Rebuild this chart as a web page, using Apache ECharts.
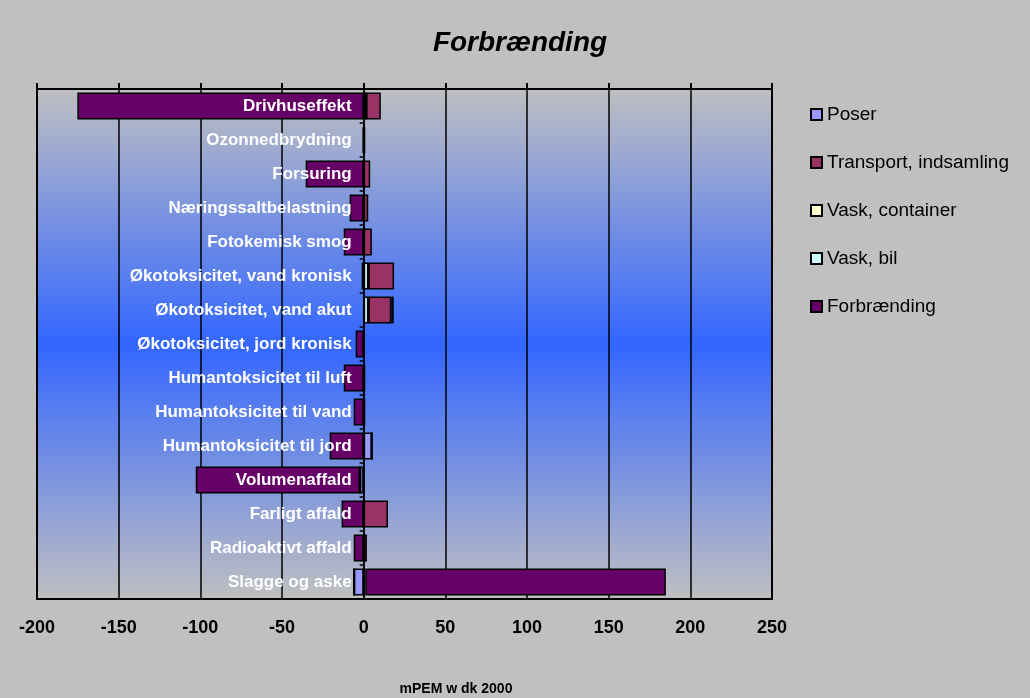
<!DOCTYPE html>
<html>
<head>
<meta charset="utf-8">
<script src="https://cdn.jsdelivr.net/npm/echarts@6/dist/echarts.min.js"></script>
<style>
html,body{margin:0;padding:0;background:#C0C0C0;}
#c{width:1030px;height:698px;}
</style>
</head>
<body>
<div id="c"></div>
<script>
var categories = ['Drivhuseffekt','Ozonnedbrydning','Forsuring','Næringssaltbelastning','Fotokemisk smog','Økotoksicitet, vand kronisk','Økotoksicitet, vand akut','Økotoksicitet, jord kronisk','Humantoksicitet til luft','Humantoksicitet til vand','Humantoksicitet til jord','Volumenaffald','Farligt affald','Radioaktivt affald','Slagge og aske'];
var poser       = [1.5, 0, 0, 0, 0, 0, 0, 0, 0, 0, 5, -2.3, 0, 0, -6];
var transport   = [9, 1, 4, 2.8, 5, 15.7, 14, 0, 1, 1, 0, 0, 14.9, 2, 1];
var vaskCont    = [0, 0, 0, 0, 0, 0, 0, 0, 0, 0, 0, 0, 0, 0, 0];
var vaskBil     = [0, 0, 0, 0, 0, 2.9, 2.9, 0, 0, 0, 0, 0, 0, 0, 0];
var forbraend   = [-175.3, -0.5, -35.5, -8.6, -12.2, -1.2, 1.5, -4.9, -12.2, -6.1, -20.8, -100.5, -13.5, -6.1, 184];
var xTicks = {min: -200, max: 250, interval: 50};

var FONT = "'Liberation Sans', Arial, sans-serif";
var GRID = {left: 37, right: 258, top: 89, bottom: 99};
var plotWidth = 1030 - GRID.left - GRID.right;
// shift the category axis (line, ticks, labels) to the value-axis zero
var zeroOffset = -plotWidth * (0 - xTicks.min) / (xTicks.max - xTicks.min);

function bar(name, data, color) {
  return {
    name: name, type: 'bar', stack: 'total', data: data,
    barCategoryGap: '21%',
    itemStyle: {color: color, borderColor: '#000', borderWidth: 1.5},
    xAxisIndex: 0, yAxisIndex: 0
  };
}
var chart = echarts.init(document.getElementById('c'));
chart.setOption({
  backgroundColor: '#C0C0C0',
  animation: false,
  title: [
    {text: 'Forbrænding', left: 515, textAlign: 'center', top: 24,
     textStyle: {fontFamily: FONT, fontSize: 28, fontWeight: 'bold', fontStyle: 'italic', color: '#000'}},
    {text: 'mPEM w dk 2000', left: 451, textAlign: 'center', top: 677,
     textStyle: {fontFamily: FONT, fontSize: 14, fontWeight: 'bold', color: '#000'}}
  ],
  legend: {
    orient: 'vertical', left: 805, top: 100,
    itemWidth: 11, itemHeight: 11, itemGap: 29,
    icon: 'rect',
    data: ['Poser','Transport, indsamling','Vask, container','Vask, bil','Forbrænding'],
    textStyle: {fontFamily: FONT, fontSize: 19, color: '#000'}
  },
  grid: {
    left: GRID.left, right: GRID.right, top: GRID.top, bottom: GRID.bottom,
    containLabel: false, outerBoundsMode: 'none',
    show: true, borderColor: '#000', borderWidth: 2,
    backgroundColor: new echarts.graphic.LinearGradient(0, 0, 0, 1, [
      {offset: 0, color: '#C0C0C0'},
      {offset: 0.5, color: '#3366FF'},
      {offset: 1, color: '#C0C0C0'}
    ])
  },
  xAxis: [
    {type: 'value', position: 'bottom', min: xTicks.min, max: xTicks.max, interval: xTicks.interval,
     axisLine: {show: true, onZero: false, lineStyle: {color: '#000', width: 2}},
     axisTick: {show: false},
     splitLine: {show: true, lineStyle: {color: '#000', width: 1.5}},
     axisLabel: {fontFamily: FONT, fontSize: 18, fontWeight: 'bold', color: '#000', margin: 20}},
    {type: 'value', position: 'top', min: xTicks.min, max: xTicks.max, interval: xTicks.interval,
     axisLine: {show: true, onZero: false, lineStyle: {color: '#000', width: 2}},
     axisTick: {show: true, inside: false, length: 6, lineStyle: {color: '#000', width: 2}},
     splitLine: {show: false},
     axisLabel: {show: false}}
  ],
  yAxis: {
    type: 'category', inverse: true, data: categories, z: 10,
    position: 'left', offset: zeroOffset,
    axisLine: {show: true, onZero: false, lineStyle: {color: '#000', width: 1.5}},
    axisTick: {show: true, length: 4, lineStyle: {color: '#000', width: 1.5}},
    axisLabel: {fontFamily: FONT, fontSize: 17, fontWeight: 'bold', color: '#FFFFFF', margin: 12}
  },
  series: [
    bar('Poser', poser, '#9999FF'),
    bar('Vask, bil', vaskBil, '#CCFFFF'),
    bar('Vask, container', vaskCont, '#FFFFCC'),
    bar('Transport, indsamling', transport, '#993366'),
    bar('Forbrænding', forbraend, '#660066')
  ]
});
</script>
</body>
</html>
